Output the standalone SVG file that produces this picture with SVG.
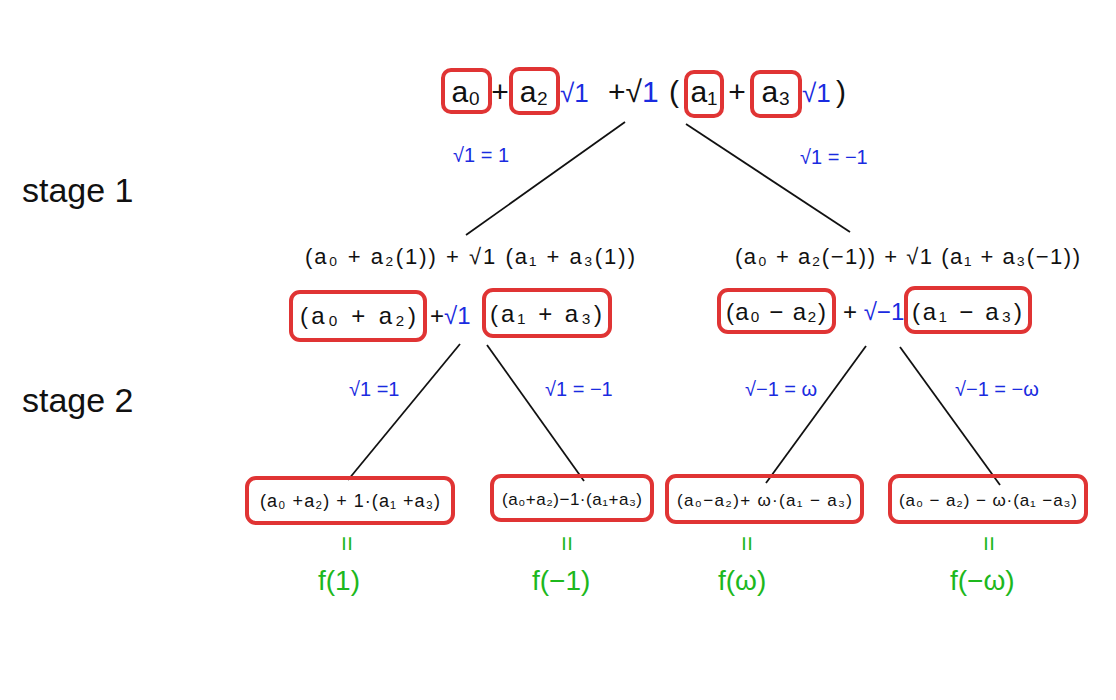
<svg xmlns="http://www.w3.org/2000/svg" width="1116" height="700" viewBox="0 0 1116 700">
<style>
text{font-family:"Liberation Sans",Arial,sans-serif;fill:#111}
.b{fill:#1a2be0}
.g{fill:#1db81d}
.m{text-anchor:middle}
.box{fill:none;stroke:#e03434;stroke-width:4}
.ln{stroke:#111;stroke-width:1.8}
.lab{font-size:20px}
.st{font-size:34px}
</style>
<rect width="1116" height="700" fill="#fff"/>
<g id="labels">
<text class="st" x="22" y="202">stage 1</text>
<text class="st" x="22" y="412">stage 2</text>
</g>
<g id="top" font-size="30">
<rect class="box" x="443" y="70" width="47" height="42" rx="8"/>
<rect class="box" x="511" y="69" width="47" height="44" rx="8"/>
<rect class="box" x="686" y="72" width="36" height="44" rx="8"/>
<rect class="box" x="752" y="72" width="48" height="44" rx="8"/>
<text class="m" x="466" y="102">a₀</text>
<text class="m" x="500" y="102">+</text>
<text class="m" x="534" y="102">a₂</text>
<text class="b" x="560" y="102" font-size="26">√1</text>
<text x="608" y="102">+√<tspan class="b">1</tspan></text>
<text class="m" x="674" y="102">(</text>
<text class="m" x="704" y="102">a₁</text>
<text class="m" x="737" y="102">+</text>
<text class="m" x="776" y="102">a₃</text>
<text class="b" x="802" y="102" font-size="26">√1</text>
<text x="836" y="102">)</text>
</g>
<g id="connectors">
<line class="ln" x1="625" y1="122" x2="466" y2="235"/>
<line class="ln" x1="686" y1="124" x2="850" y2="232"/>
<line class="ln" x1="460" y1="344" x2="348" y2="480"/>
<line class="ln" x1="487" y1="345" x2="584" y2="481"/>
<line class="ln" x1="866" y1="346" x2="766" y2="483"/>
<line class="ln" x1="900" y1="347" x2="1000" y2="485"/>
<text class="b lab" x="453" y="162">√1 = 1</text>
<text class="b lab" x="800" y="164">√1 = −1</text>
<text class="b lab" x="349" y="396">√1 =1</text>
<text class="b lab" x="545" y="396">√1 = −1</text>
<text class="b lab" x="745" y="396">√−1 = ω</text>
<text class="b lab" x="955" y="396">√−1 = −ω</text>
</g>
<g id="mid-left">
<text x="305" y="264" font-size="22" textLength="330">(a₀ + a₂(1)) + √1 (a₁ + a₃(1))</text>
<rect class="box" x="291" y="292" width="134" height="48" rx="9"/>
<rect class="box" x="484" y="290" width="126" height="46" rx="9"/>
<text x="300" y="324" font-size="24" textLength="116">(a₀ + a₂)</text>
<text x="430" y="324" font-size="24">+<tspan class="b">√1</tspan></text>
<text x="490" y="322" font-size="24" textLength="112">(a₁ + a₃)</text>
</g>
<g id="mid-right">
<text x="735" y="264" font-size="22" textLength="345">(a₀ + a₂(−1)) + √1 (a₁ + a₃(−1))</text>
<rect class="box" x="719" y="290" width="115" height="42" rx="9"/>
<rect class="box" x="906" y="288" width="124" height="44" rx="9"/>
<text x="726" y="320" font-size="24" textLength="100">(a₀ − a₂)</text>
<text x="843" y="320" font-size="24">+ <tspan class="b">√−1</tspan></text>
<text x="912" y="320" font-size="24" textLength="110">(a₁ − a₃)</text>
</g>
<g id="leaf1">
<rect class="box" x="247" y="478" width="206" height="45" rx="9"/>
<text x="260" y="507" font-size="18" textLength="180">(a₀ +a₂) + 1·(a₁ +a₃)</text>
<text class="g" x="338" y="555" font-size="26" transform="rotate(90 348 546)">=</text>
<text class="g" x="318" y="590" font-size="28">f(1)</text>
</g>
<g id="leaf2">
<rect class="box" x="492" y="476" width="160" height="44" rx="9"/>
<text x="502" y="505" font-size="17" textLength="140">(a₀+a₂)−1·(a₁+a₃)</text>
<text class="g" x="558" y="555" font-size="26" transform="rotate(90 568 546)">=</text>
<text class="g" x="532" y="590" font-size="28">f(−1)</text>
</g>
<g id="leaf3">
<rect class="box" x="667" y="476" width="195" height="46" rx="9"/>
<text x="677" y="506" font-size="17" textLength="175">(a₀−a₂)+ ω·(a₁ − a₃)</text>
<text class="g" x="738" y="555" font-size="26" transform="rotate(90 748 546)">=</text>
<text class="g" x="718" y="590" font-size="28">f(ω)</text>
</g>
<g id="leaf4">
<rect class="box" x="890" y="476" width="196" height="46" rx="9"/>
<text x="899" y="506" font-size="17" textLength="178">(a₀ − a₂) − ω·(a₁ −a₃)</text>
<text class="g" x="980" y="555" font-size="26" transform="rotate(90 990 546)">=</text>
<text class="g" x="950" y="590" font-size="28">f(−ω)</text>
</g>
</svg>
